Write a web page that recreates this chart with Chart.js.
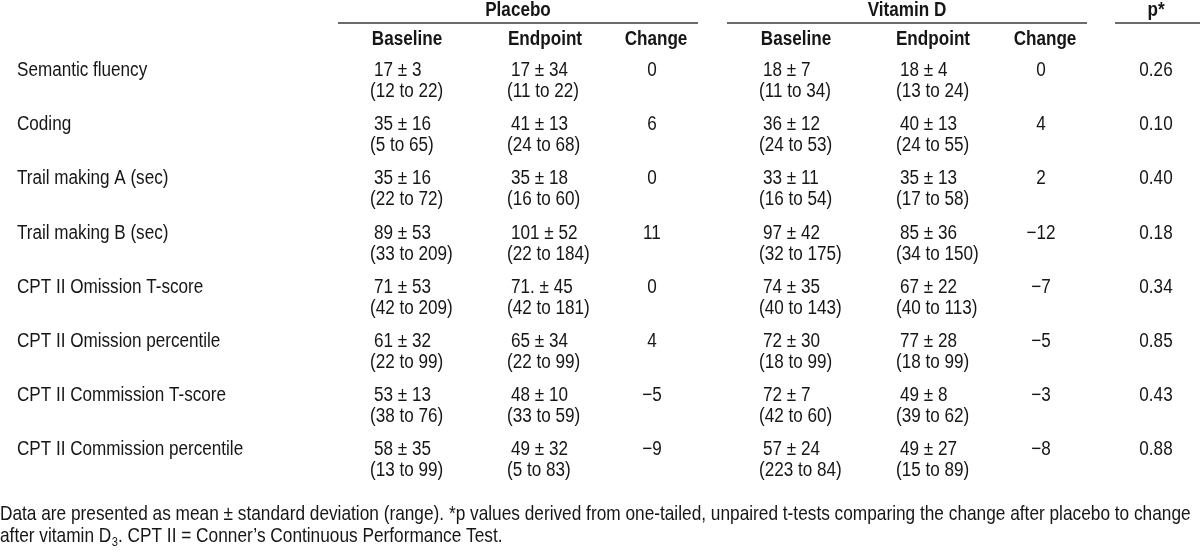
<!DOCTYPE html>
<html>
<head>
<meta charset="utf-8">
<script src="https://cdn.jsdelivr.net/npm/chart.js@4.4.1/dist/chart.umd.min.js"></script>
<style>
  html, body { margin: 0; padding: 0; background: #ffffff; }
  #wrap { width: 1200px; height: 551px; position: relative; }
</style>
</head>
<body>
<div id="wrap"><canvas id="c" width="1200" height="551"></canvas></div>
<script>
// ---------- DATA ----------
const measures = [
  "Semantic fluency", "Coding", "Trail making A (sec)", "Trail making B (sec)",
  "CPT II Omission T-score", "CPT II Omission percentile",
  "CPT II Commission T-score", "CPT II Commission percentile"
];
const groupHeaders = ["Placebo", "Vitamin D", "p*"];
const columnHeaders = ["Baseline", "Endpoint", "Change", "Baseline", "Endpoint", "Change"];

const placeboBaseline      = ["17 ± 3", "35 ± 16", "35 ± 16", "89 ± 53", "71 ± 53", "61 ± 32", "53 ± 13", "58 ± 35"];
const placeboBaselineRange = ["(12 to 22)", "(5 to 65)", "(22 to 72)", "(33 to 209)", "(42 to 209)", "(22 to 99)", "(38 to 76)", "(13 to 99)"];
const placeboEndpoint      = ["17 ± 34", "41 ± 13", "35 ± 18", "101 ± 52", "71. ± 45", "65 ± 34", "48 ± 10", "49 ± 32"];
const placeboEndpointRange = ["(11 to 22)", "(24 to 68)", "(16 to 60)", "(22 to 184)", "(42 to 181)", "(22 to 99)", "(33 to 59)", "(5 to 83)"];
const placeboChange        = ["0", "6", "0", "11", "0", "4", "−5", "−9"];

const vitDBaseline      = ["18 ± 7", "36 ± 12", "33 ± 11", "97 ± 42", "74 ± 35", "72 ± 30", "72 ± 7", "57 ± 24"];
const vitDBaselineRange = ["(11 to 34)", "(24 to 53)", "(16 to 54)", "(32 to 175)", "(40 to 143)", "(18 to 99)", "(42 to 60)", "(223 to 84)"];
const vitDEndpoint      = ["18 ± 4", "40 ± 13", "35 ± 13", "85 ± 36", "67 ± 22", "77 ± 28", "49 ± 8", "49 ± 27"];
const vitDEndpointRange = ["(13 to 24)", "(24 to 55)", "(17 to 58)", "(34 to 150)", "(40 to 113)", "(18 to 99)", "(39 to 62)", "(15 to 89)"];
const vitDChange        = ["0", "4", "2", "−12", "−7", "−5", "−3", "−8"];

const pValues = ["0.26", "0.10", "0.40", "0.18", "0.34", "0.85", "0.43", "0.88"];

const footnoteLine1 = "Data are presented as mean ± standard deviation (range). *p values derived from one-tailed, unpaired t-tests comparing the change after placebo to change";
const footnoteLine2a = "after vitamin D";
const footnoteLine2sub = "3";
const footnoteLine2b = ". CPT II = Conner’s Continuous Performance Test.";

// ---------- LAYOUT (positions in x-scale units, not data) ----------
const FONT = '"Liberation Sans", Arial, sans-serif';
const FS = 20;
const SX = 0.855;           // horizontal condensing to mimic a narrow face
const TEXT = '#161616';
const RULE = '#6b6b6b';
const colAnchor = { label: 17, pb: 370, pe: 507, pc: 652, vb: 759, ve: 896, vc: 1041, p: 1156 };
const headerCenter = [407, 545, 656, 796, 933, 1045];
const groupSpan = [[338, 698], [727, 1087], [1115, 1200]];

const columns = [
  { key: 'pb', top: placeboBaseline, bottom: placeboBaselineRange, align: 'left' },
  { key: 'pe', top: placeboEndpoint, bottom: placeboEndpointRange, align: 'left' },
  { key: 'pc', top: placeboChange, bottom: null, align: 'center' },
  { key: 'vb', top: vitDBaseline, bottom: vitDBaselineRange, align: 'left' },
  { key: 've', top: vitDEndpoint, bottom: vitDEndpointRange, align: 'left' },
  { key: 'vc', top: vitDChange, bottom: null, align: 'center' },
  { key: 'p', top: pValues, bottom: null, align: 'center' },
  { key: 'label', top: measures, bottom: null, align: 'left' }
];

const datasets = columns.map(col => ({
  label: col.key,
  data: measures.map(m => ({ x: colAnchor[col.key], y: m })),
  pointRadius: 0,
  pointHoverRadius: 0,
  showLine: false,
  _col: col
}));

function drawText(ctx, text, x, y, align, font) {
  ctx.save();
  ctx.font = font;
  ctx.textAlign = align;
  ctx.translate(x, y);
  ctx.scale(SX, 1);
  ctx.fillText(text, 0, 0);
  const w = ctx.measureText(text).width * SX;
  ctx.restore();
  return w;
}

const tablePlugin = {
  id: 'tableText',
  afterDatasetsDraw(chart) {
    const ctx = chart.ctx;
    const xs = chart.scales.x;
    ctx.save();
    ctx.fillStyle = TEXT;
    ctx.textBaseline = 'alphabetic';
    const reg = `${FS}px ${FONT}`;
    const bold = `bold ${FS}px ${FONT}`;
    // cells
    chart.data.datasets.forEach((ds, di) => {
      const col = ds._col;
      const meta = chart.getDatasetMeta(di);
      meta.data.forEach((pt, i) => {
        const x = pt.x, y = pt.y;
        if (col.align === 'left') {
          const indent = col.bottom ? 4 : 0;
          drawText(ctx, col.top[i], x + indent, y + 7, 'left', reg);
          if (col.bottom) drawText(ctx, col.bottom[i], x, y + 28, 'left', reg);
        } else {
          drawText(ctx, col.top[i], x, y + 7, 'center', reg);
        }
      });
    });
    // group headers and rules
    groupHeaders.forEach((h, i) => {
      const [a, b] = groupSpan[i];
      const xa = xs.getPixelForValue(a), xb = xs.getPixelForValue(b);
      const cx = i === 2 ? xs.getPixelForValue(colAnchor.p) : (xa + xb) / 2;
      drawText(ctx, h, cx, 16, 'center', bold);
      ctx.strokeStyle = RULE;
      ctx.lineWidth = 2;
      ctx.beginPath();
      ctx.moveTo(xa, 23);
      ctx.lineTo(xb, 23);
      ctx.stroke();
    });
    columnHeaders.forEach((h, i) => {
      drawText(ctx, h, xs.getPixelForValue(headerCenter[i]), 45, 'center', bold);
    });
    // footnote
    const fn = `20.2px ${FONT}`;
    drawText(ctx, footnoteLine1, 0, 520, 'left', fn);
    let x = 0;
    x += drawText(ctx, footnoteLine2a, x, 542, 'left', fn);
    x += drawText(ctx, footnoteLine2sub, x + 0.5, 546, 'left', `13px ${FONT}`) + 0.5;
    drawText(ctx, footnoteLine2b, x, 542, 'left', fn);
    ctx.restore();
  }
};

new Chart(document.getElementById('c'), {
  type: 'scatter',
  data: { datasets },
  options: {
    responsive: false,
    animation: false,
    events: [],
    layout: { padding: { left: 0, right: 0, top: 42, bottom: 75.5 } },
    plugins: { legend: { display: false }, tooltip: { enabled: false } },
    scales: {
      x: { type: 'linear', min: 0, max: 1200, display: false },
      y: { type: 'category', labels: measures, offset: true, display: false }
    }
  },
  plugins: [tablePlugin]
});
</script>
</body>
</html>
